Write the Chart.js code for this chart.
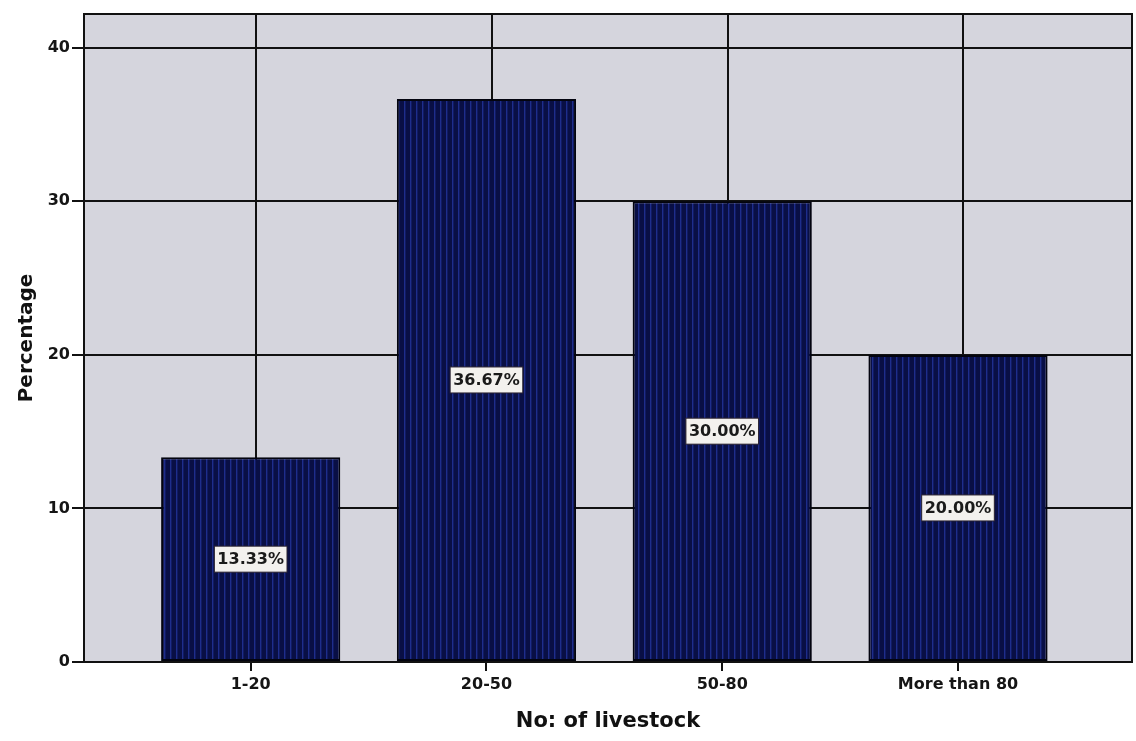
<!DOCTYPE html>
<html>
<head>
<meta charset="utf-8">
<title>No: of livestock</title>
<script src="https://cdn.jsdelivr.net/npm/chart.js@4/dist/chart.umd.min.js"></script>
<style>
  html, body { margin: 0; padding: 0; background: #ffffff; }
  #wrap { width: 1136px; height: 741px; position: relative; }
</style>
</head>
<body>
<div id="wrap"><canvas id="chart" width="1136" height="741"></canvas></div>
<script>
// Herd size classes and the share of respondents in each class
const categories = ['1-20', '20-50', '50-80', 'More than 80'];
const percentages = [13.33, 36.67, 30.00, 20.00];
const yTickValues = [0, 10, 20, 30, 40];

// Vertical hatch fill for the bars: navy with thin lighter-blue stripes
function stripePattern() {
  const c = document.createElement('canvas');
  c.width = 6; c.height = 8;
  const g = c.getContext('2d');
  g.fillStyle = '#090f45';
  g.fillRect(0, 0, 6, 8);
  g.fillStyle = '#1e2d8c';
  g.fillRect(2, 0, 1.4, 8);
  return g.createPattern(c, 'repeat');
}

const frameColor = '#111111';

// Plot background and outer frame
const plotFrame = {
  id: 'plotFrame',
  beforeDraw(chart) {
    const { ctx, chartArea: a } = chart;
    ctx.save();
    ctx.fillStyle = '#d5d5dd';
    ctx.fillRect(a.left, a.top, a.right - a.left, a.bottom - a.top);
    ctx.restore();
  },
  afterDraw(chart) {
    const { ctx, chartArea: a } = chart;
    ctx.save();
    ctx.strokeStyle = frameColor;
    ctx.lineWidth = 2;
    ctx.strokeRect(a.left, a.top, a.right - a.left, a.bottom - a.top);
    ctx.restore();
  }
};

// Boxed percentage label in the middle of every bar
const valueBoxes = {
  id: 'valueBoxes',
  afterDatasetsDraw(chart) {
    const { ctx } = chart;
    const meta = chart.getDatasetMeta(0);
    ctx.save();
    ctx.font = 'bold 16px "DejaVu Sans", sans-serif';
    ctx.textAlign = 'center';
    ctx.textBaseline = 'middle';
    meta.data.forEach((bar, i) => {
      const text = percentages[i].toFixed(2) + '%';
      const cx = bar.x;
      const cy = (bar.y + bar.base) / 2;
      const w = ctx.measureText(text).width + 6;
      const h = 26;
      ctx.fillStyle = '#f3f1ee';
      ctx.fillRect(cx - w / 2, cy - h / 2, w, h);
      ctx.strokeStyle = '#2a2230';
      ctx.lineWidth = 1;
      ctx.strokeRect(cx - w / 2, cy - h / 2, w, h);
      ctx.fillStyle = '#1a1a1a';
      ctx.fillText(text, cx, cy + 1);
    });
    ctx.restore();
  }
};

const catTicks = scale => { scale.ticks = categories.map((_, i) => ({ value: i })); };

new Chart(document.getElementById('chart'), {
  type: 'bar',
  data: {
    datasets: [{
      data: percentages.map((v, i) => ({ x: i, y: v })),
      backgroundColor: stripePattern(),
      borderColor: '#03040f',
      borderWidth: 2,
      borderSkipped: false,
      categoryPercentage: 1,
      barPercentage: 0.76
    }]
  },
  options: {
    responsive: false,
    animation: false,
    layout: { padding: { top: 14, right: 4, left: 0, bottom: 0 } },
    plugins: { legend: { display: false }, tooltip: { enabled: false } },
    scales: {
      x: {
        type: 'linear',
        position: 'bottom',
        offset: false,
        min: -0.707,
        max: 3.738,
        afterBuildTicks: catTicks,
        afterFit: s => { s.height = 79; },
        ticks: {
          autoSkip: false,
          maxRotation: 0,
          padding: 4,
          color: '#151515',
          font: { family: '"DejaVu Sans", sans-serif', size: 16, weight: 'bold' },
          callback: v => categories[v]
        },
        grid: { offset: false, drawOnChartArea: false, drawTicks: true, tickLength: 9, color: frameColor, lineWidth: 2 },
        border: { display: true, color: frameColor, width: 2 },
        title: {
          display: true,
          text: 'No: of livestock',
          color: '#111111',
          font: { family: '"DejaVu Sans", sans-serif', size: 21, weight: 'bold' },
          padding: { top: 0, bottom: 7 }
        }
      },
      xGrid: {
        type: 'linear',
        position: 'bottom',
        offset: false,
        min: -0.73,
        max: 3.715,
        afterBuildTicks: catTicks,
        afterFit: s => { s.height = 0; },
        ticks: { display: false },
        grid: { offset: false, drawOnChartArea: true, drawTicks: false, color: frameColor, lineWidth: 2 },
        border: { display: false }
      },
      y: {
        min: 0,
        max: 42.2,
        afterBuildTicks: s => { s.ticks = yTickValues.map(v => ({ value: v })); },
        afterFit: s => { s.width = 84; },
        ticks: {
          padding: 2,
          color: '#151515',
          font: { family: '"DejaVu Sans", sans-serif', size: 16, weight: 'bold' }
        },
        grid: { color: frameColor, lineWidth: 2, tickLength: 12 },
        border: { display: true, color: frameColor, width: 2 },
        title: {
          display: true,
          text: 'Percentage',
          color: '#111111',
          font: { family: '"DejaVu Sans", sans-serif', size: 20, weight: 'bold' },
          padding: { top: 15, bottom: 4 }
        }
      }
    }
  },
  plugins: [plotFrame, valueBoxes]
});
</script>
</body>
</html>
